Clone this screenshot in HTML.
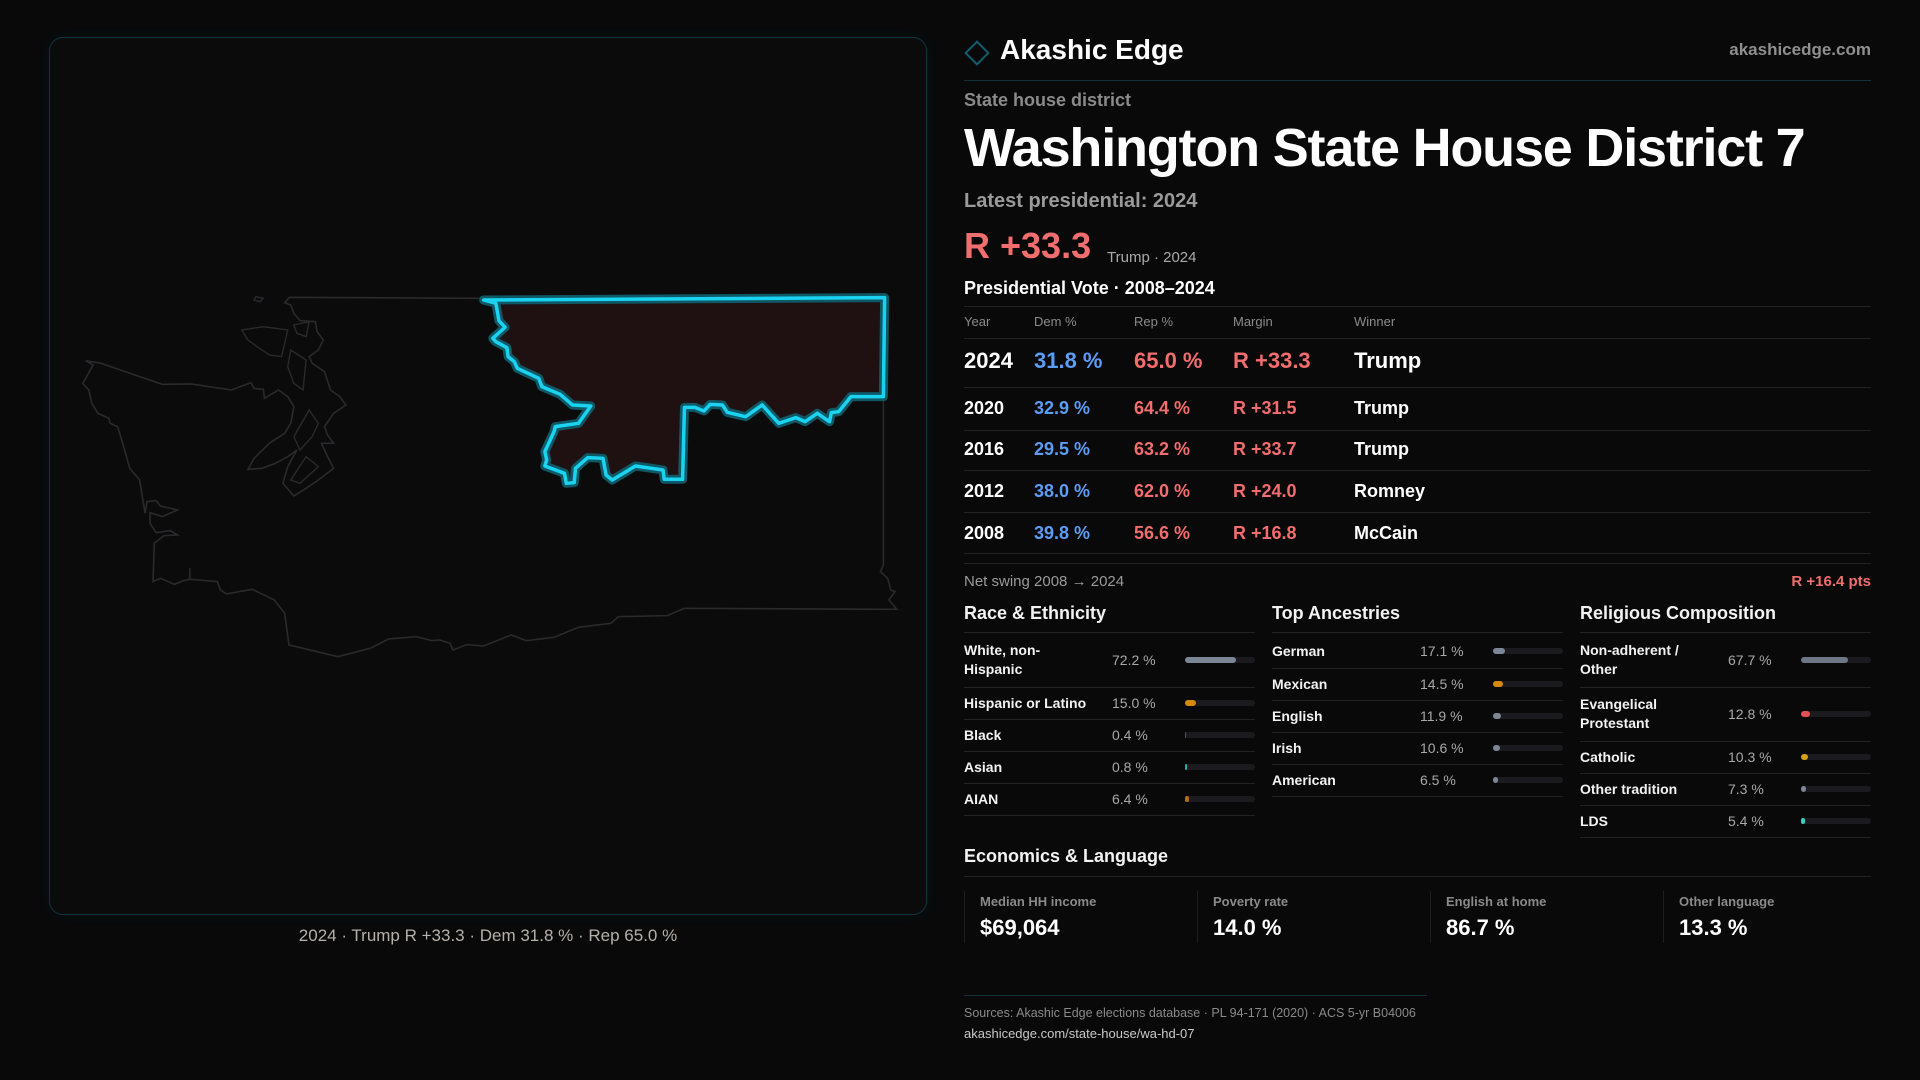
<!DOCTYPE html>
<html><head><meta charset="utf-8">
<style>
*{margin:0;padding:0;box-sizing:border-box}
body{width:1920px;height:1080px;background:#09090a;font-family:"Liberation Sans",sans-serif;color:#f2f2f2;position:relative;overflow:hidden}
.a{position:absolute;white-space:nowrap}
.hl{position:absolute;height:1px;background:#222226}
.red{color:#f26d6d}
</style></head><body>

<div class="a" style="left:49px;top:37px;width:878px;height:878px;border:1px solid #0f3640;border-radius:14px;background:#0b0b0c;box-shadow:0 0 12px rgba(0,180,220,0.06)"></div>
<svg class="a" style="left:0;top:0" width="960" height="940">
 <g transform="translate(0,250) scale(0.6122,0.3333)">
  <path fill="none" stroke="#2a2a2c" stroke-width="1.6" vector-effect="non-scaling-stroke" d="M473,142 L790,145 L1445,143 L1443,440 L1443,945 L1438,965 L1450,985 L1455,1020 L1462,1025 L1452,1050 L1465,1078 L1118,1075 L1090,1097 L1010,1100 L998,1120 L945,1132 L905,1162 L860,1172 L835,1155 L790,1188 L762,1184 L740,1200 L735,1180 L718,1170 L705,1172 L680,1160 L635,1167 L605,1195 L552,1220 L472,1185 L465,1090 L448,1050 L412,1018 L370,1032 L360,1020 L355,995 L310,988 L310,955 L310,988 L300,992 L285,1003 L262,985 L250,995 L252,880 L268,857 L290,855 L278,842 L255,848 L245,820 L245,788 L265,800 L290,780 L262,768 L255,752 L240,755 L237,790 L228,690 L212,655 L198,565 L192,530 L180,520 L178,505 L160,490 L150,460 L145,420 L135,400 L140,385 L152,345 L140,332 L165,340 L265,403 L312,402 L378,420 L410,398 L415,415 L430,418 L432,445 L455,420 L470,440 L480,470 L475,520 L465,550 L440,580 L415,625 L405,658 L428,655 L450,640 L470,620 L485,600 L470,650 L462,700 L480,738 L500,715 L520,690 L545,655 L535,620 L525,580 L545,580 L535,555 L530,530 L545,490 L565,465 L555,440 L540,420 L530,365 L510,340 L505,320 L520,300 L528,270 L518,245 L515,215 L490,212 L480,190 L475,165 L465,158 Z"/>
  <path fill="none" stroke="#2a2a2c" stroke-width="1.4" vector-effect="non-scaling-stroke" d="M395,240 L430,230 L470,240 L460,320 L440,315 L420,290 L405,270 Z M480,225 L505,215 L500,260 L485,250 Z M475,300 L500,330 L495,420 L480,400 L470,350 Z M505,480 L520,520 L510,560 L490,600 L480,560 Z M418,140 L430,145 L425,155 L415,150 Z M500,620 L520,650 L490,700 L475,690 Z"/>
  <path fill="#1f1012" stroke="#0f5866" stroke-width="9" vector-effect="non-scaling-stroke" stroke-linejoin="round" d="M790,150 L1445,143 L1443,440 L1390,440 L1370,485 L1358,488 L1355,515 L1335,490 L1315,515 L1300,503 L1272,520 L1245,465 L1218,500 L1188,487 L1180,465 L1160,463 L1150,483 L1135,472 L1118,472 L1115,688 L1085,688 L1083,660 L1038,648 L1000,690 L990,675 L985,625 L960,623 L940,655 L938,698 L925,700 L922,670 L890,648 L893,630 L890,605 L905,545 L907,530 L945,520 L965,468 L935,465 L915,433 L885,410 L880,385 L845,355 L840,335 L830,320 L828,293 L810,275 L805,265 L825,232 L815,212 L810,160 Z"/>
  <path fill="none" stroke="#19d3f0" stroke-width="3.5" vector-effect="non-scaling-stroke" stroke-linejoin="round" d="M790,150 L1445,143 L1443,440 L1390,440 L1370,485 L1358,488 L1355,515 L1335,490 L1315,515 L1300,503 L1272,520 L1245,465 L1218,500 L1188,487 L1180,465 L1160,463 L1150,483 L1135,472 L1118,472 L1115,688 L1085,688 L1083,660 L1038,648 L1000,690 L990,675 L985,625 L960,623 L940,655 L938,698 L925,700 L922,670 L890,648 L893,630 L890,605 L905,545 L907,530 L945,520 L965,468 L935,465 L915,433 L885,410 L880,385 L845,355 L840,335 L830,320 L828,293 L810,275 L805,265 L825,232 L815,212 L810,160 Z"/>
 </g>
</svg>
<div class="a" style="left:49px;width:878px;top:924px;line-height:24px;text-align:center;font-size:17px;color:#b5b0a8">2024 · Trump R +33.3 · Dem 31.8 % · Rep 65.0 %</div>

<div class="a" style="left:968px;top:44px;width:18px;height:18px;border:2px solid #0f5c6b;transform:rotate(45deg)"></div>
<div class="a" style="left:1000px;top:32px;line-height:36px;font-size:28px;font-weight:bold;color:#fff">Akashic Edge</div>
<div class="a" style="right:49px;top:39px;line-height:22px;font-size:17px;font-weight:bold;color:#8f8f8f">akashicedge.com</div>
<div class="hl" style="left:964px;width:907px;top:80px;background:#123238"></div>

<div class="a" style="left:964px;top:89px;line-height:22px;font-size:18px;font-weight:bold;color:#8a8a8a">State house district</div>
<h1 class="a" style="left:964px;top:115px;line-height:66px;font-size:54px;letter-spacing:-1.2px;color:#fff">Washington State House District 7</h1>
<div class="a" style="left:964px;top:189px;line-height:24px;font-size:20px;font-weight:bold;color:#9a9a9a">Latest presidential: 2024</div>
<div class="a red" style="left:964px;top:224px;line-height:44px;font-size:36px;font-weight:bold">R +33.3</div>
<div class="a" style="left:1107px;top:248px;line-height:20px;font-size:15px;color:#aaa">Trump · 2024</div>
<div class="a" style="left:964px;top:277px;line-height:22px;font-size:18px;font-weight:bold;color:#fff">Presidential Vote · 2008–2024</div>
<div class="hl" style="left:964px;width:907px;top:306px"></div>
<div id="vtable"></div>

<div class="hl" style="left:964px;width:907px;top:563px"></div>
<div class="a" style="left:964px;top:572px;line-height:20px;font-size:15px;color:#9a9a9a">Net swing 2008 → 2024</div>
<div class="a red" style="right:49px;top:572px;line-height:20px;font-size:15px;font-weight:bold">R +16.4 pts</div>

<div id="demo"></div>

<div class="a" style="left:964px;top:845px;line-height:22px;font-size:18px;font-weight:bold">Economics &amp; Language</div>
<div class="hl" style="left:964px;width:907px;top:876px"></div>
<div id="econ"></div>

<div class="hl" style="left:964px;width:463px;top:995px;background:#123238"></div>
<div class="a" style="left:964px;top:1005px;line-height:16px;font-size:12.5px;color:#8a8a8a">Sources: Akashic Edge elections database · PL 94-171 (2020) · ACS 5-yr B04006</div>
<div class="a" style="left:964px;top:1026px;line-height:16px;font-size:13px;color:#c8c8c8">akashicedge.com/state-house/wa-hd-07</div>

<script>
const years = ['2024','2020','2016','2012','2008'];
const demPct = [31.8, 32.9, 29.5, 38.0, 39.8];
const repPct = [65.0, 64.4, 63.2, 62.0, 56.6];
const margins = [33.3, 31.5, 33.7, 24.0, 16.8];
const winners = ['Trump','Trump','Trump','Romney','McCain'];

const raceLabels = ['White, non-<br>Hispanic','Hispanic or Latino','Black','Asian','AIAN'];
const raceValues = [72.2, 15.0, 0.4, 0.8, 6.4];
const raceColors = ['#7d8697','#d58a0b','#555','#14b8a6','#b86a12'];
const ancLabels = ['German','Mexican','English','Irish','American'];
const ancValues = [17.1, 14.5, 11.9, 10.6, 6.5];
const ancColors = ['#7d8697','#d58a0b','#7d8697','#7d8697','#7d8697'];
const relLabels = ['Non-adherent /<br>Other','Evangelical<br>Protestant','Catholic','Other tradition','LDS'];
const relValues = [67.7, 12.8, 10.3, 7.3, 5.4];
const relColors = ['#6f7686','#e05252','#d4a017','#7d8697','#2dd4bf'];

const econLabels = ['Median HH income','Poverty rate','English at home','Other language'];
const econValues = ['$69,064','14.0 %','86.7 %','13.3 %'];

function mk(parent, css, html){
  const d=document.createElement('div');
  d.className='a';
  d.style.cssText=css;
  if(html!==undefined) d.innerHTML=html;
  parent.appendChild(d);
  return d;
}
const colX=[964,1034,1134,1233,1354];
const vt=document.getElementById('vtable');
['Year','Dem %','Rep %','Margin','Winner'].forEach((h,i)=>{
  const e=mk(vt,`left:${colX[i]}px;top:313px;line-height:18px;font-size:13px;color:#8a8a8a`,h);
  
  
});
const hr=mk(vt,'left:964px;width:907px;top:338px;height:1px;background:#222226');


const rowCenters=[361,408,449,491,533];
const rowLines=[387,430,470,512,553];
years.forEach((y,i)=>{
  const fs=i===0?22:18;
  const c=rowCenters[i];
  const m=margins[i];
  const cells=[[y,'#fff'],[demPct[i].toFixed(1)+' %','#5b9cf5'],[repPct[i].toFixed(1)+' %','#f26d6d'],[(repPct[i]>=demPct[i]?'R +':'D +')+m.toFixed(1),'#f26d6d'],[winners[i],'#fff']];
  cells.forEach((cl,j)=>{
    const e=mk(vt,`left:${colX[j]}px;top:${c-14}px;line-height:28px;font-size:${fs}px;font-weight:bold;color:${cl[1]}`,cl[0]);
    
    
  });
  const l=mk(vt,`left:964px;width:907px;top:${rowLines[i]}px;height:1px;background:#222226`);
  
  
});

const dm=document.getElementById('demo');
function section(x,title,labels,values,colors,name){
  const t=mk(dm,`left:${x}px;top:602px;line-height:22px;font-size:18px;font-weight:bold`,title);
  
  
  const r=mk(dm,`left:${x}px;width:291px;top:632px;height:1px;background:#222226`);
  
  
  let y=633;
  labels.forEach((lb,i)=>{
    const two=lb.indexOf('<br>')>=0;
    const h=two?54:(i===0?35:32);
    const c=y+h/2;
    const le=mk(dm,`left:${x}px;top:${c-(two?19:9)}px;line-height:19px;font-size:14px;font-weight:bold;white-space:nowrap`,lb);
    
    
    const ve=mk(dm,`left:${x+148}px;top:${c-9}px;line-height:18px;font-size:14px;color:#a8a8a8`,values[i].toFixed(1)+' %');
    
    
    const tr=mk(dm,`left:${x+221}px;top:${c-3}px;width:70px;height:6px;border-radius:3px;background:#1b1b1f`);
    
    
    const w=Math.max(values[i]/100*70, values[i]<0.6?0:2);
    const b=mk(dm,`left:${x+221}px;top:${c-3}px;width:${w}px;height:6px;border-radius:3px;background:${colors[i]}`);
    
    
    y+=h;
    const rl=mk(dm,`left:${x}px;width:291px;top:${y}px;height:1px;background:#222226`);
    
    
  });
}
section(964,'Race &amp; Ethnicity',raceLabels,raceValues,raceColors,'race');
section(1272,'Top Ancestries',ancLabels,ancValues,ancColors,'ancestry');
section(1580,'Religious Composition',relLabels,relValues,relColors,'religion');

const ec=document.getElementById('econ');
econLabels.forEach((lb,i)=>{
  const x=964+i*233;
  const tl=mk(ec,`left:${x}px;top:891px;width:1px;height:52px;background:#1e1e22`);
  
  
  const l=mk(ec,`left:${x+16}px;top:893px;line-height:17px;font-size:13px;font-weight:bold;color:#8a8a8a`,lb);
  
  
  const v=mk(ec,`left:${x+16}px;top:915px;line-height:26px;font-size:22px;font-weight:bold;color:#fff`,econValues[i]);
  
  
});
</script>
</body></html>
